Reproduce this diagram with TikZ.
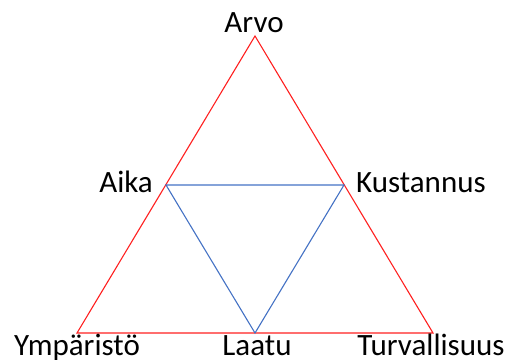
\documentclass[tikz,border=0pt]{standalone}
\usepackage{fontspec}
\setmainfont{Carlito}
\definecolor{outerred}{HTML}{FF2020}
\definecolor{innerblue}{HTML}{4472C4}
\begin{document}
\begin{tikzpicture}[x=1pt,y=-1pt,
  lbl/.style={inner sep=0pt, font=\fontsize{31}{37}\selectfont},
  outerline/.style={draw=outerred, line width=1.1pt, line join=miter},
  innerline/.style={draw=innerblue, line width=1.1pt, line join=miter}]
\useasboundingbox (0,0) rectangle (510,363);
\coordinate (A) at (255,36);
\coordinate (L) at (77,333);
\coordinate (R) at (433,333);
\coordinate (Ai) at (166,185);
\coordinate (Ku) at (344,185);
\coordinate (La) at (255,333);
\draw[outerline] (A) -- (R) -- (L) -- cycle;
\draw[innerline] (Ai) -- (Ku) -- (La) -- cycle;
\node[lbl, anchor=base] (arvo) at (254,33) {Arvo};
\node[lbl, anchor=base east] (aika) at (153,193) {Aika};
\node[lbl, anchor=base west] (kust) at (356,193) {Kustannus};
\node[lbl, anchor=base] (ymp) at (77,355.5) {Ympäristö};
\node[lbl, anchor=base] (laatu) at (257,355.5) {Laatu};
\node[lbl, anchor=base] (turv) at (431,355.5) {Turvallisuus};
\end{tikzpicture}
\end{document}
